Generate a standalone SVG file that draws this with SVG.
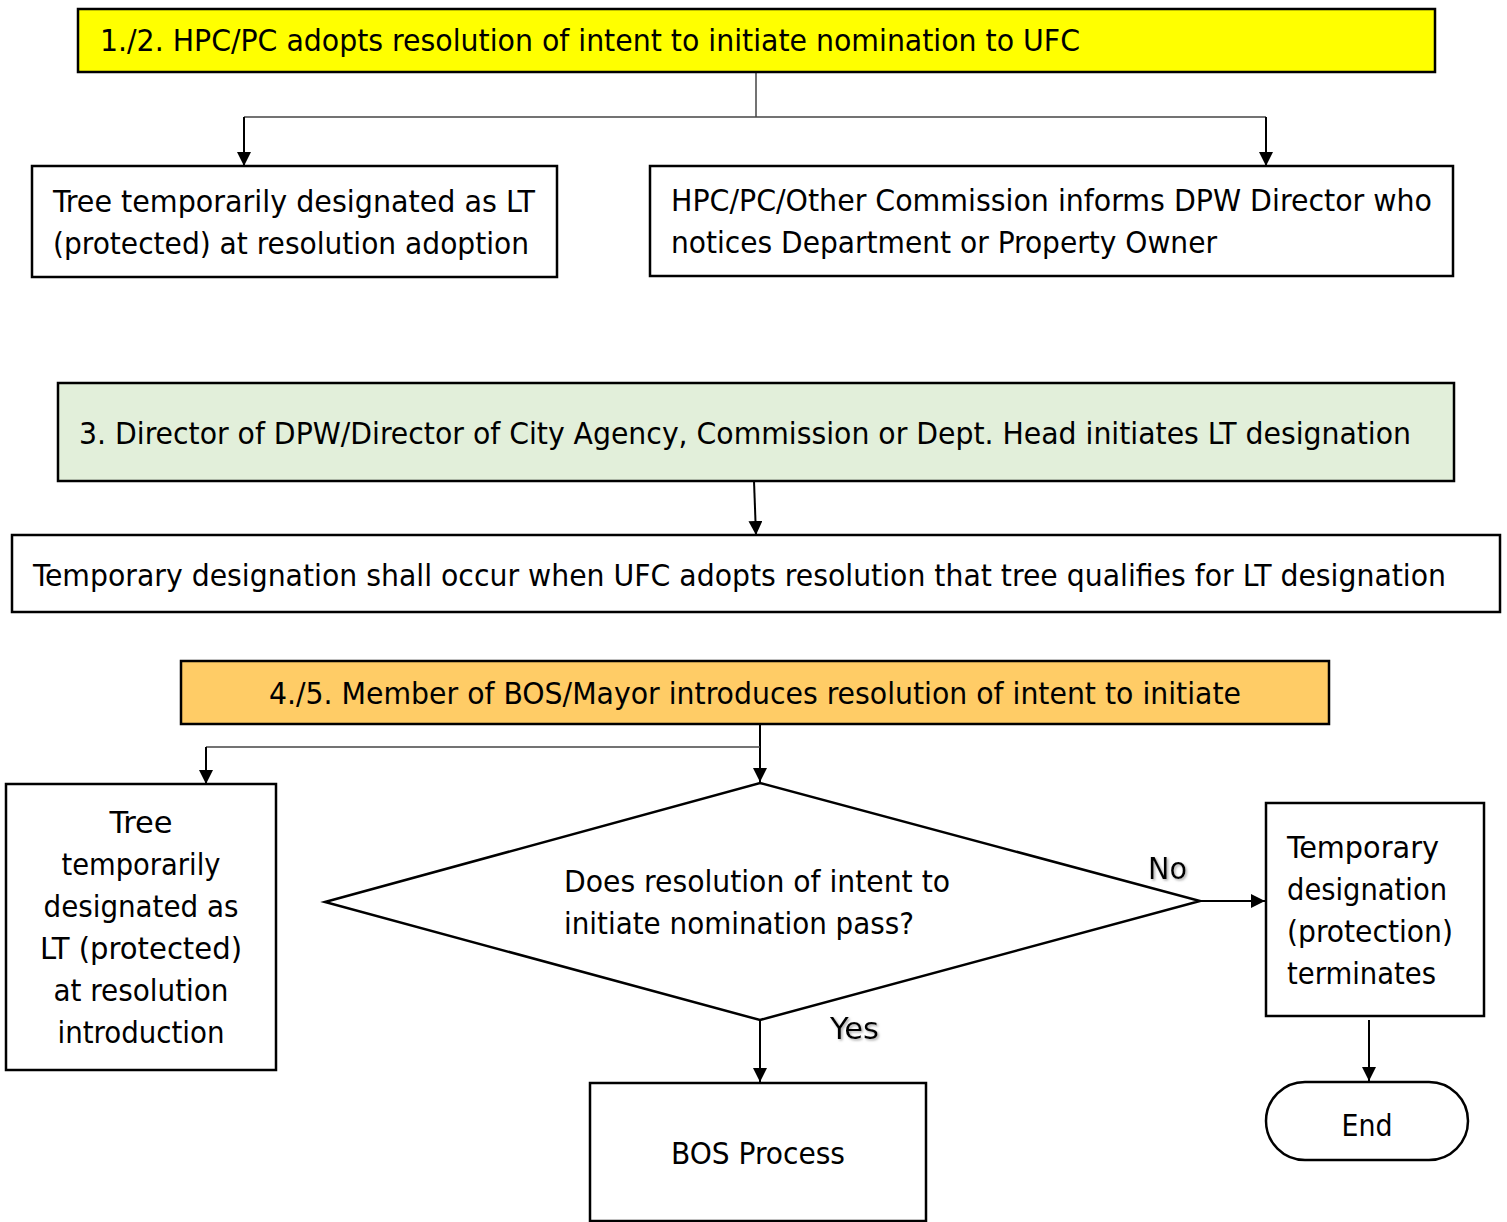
<svg xmlns="http://www.w3.org/2000/svg" width="1507" height="1222" viewBox="0 0 1507 1222">
<style>
text{font-family:"DejaVu Sans Condensed","DejaVu Sans",Verdana,sans-serif;font-size:30px;fill:#000}
.box{stroke:#000;stroke-width:2.5;fill:#fff}
.c{text-anchor:middle}
.ln{fill:none;stroke:#000;stroke-width:2}
.thin{fill:none;stroke:#444;stroke-width:1.5}
.lbl{filter:url(#sh)}
</style>
<defs>
<marker id="ah" viewBox="0 0 14 14" refX="14" refY="7" markerWidth="14" markerHeight="14" markerUnits="userSpaceOnUse" orient="auto">
<path d="M0,0 L14,7 L0,14 Z" fill="#000"/>
</marker>
<filter id="sh" x="-20%" y="-20%" width="140%" height="140%">
<feDropShadow dx="1.5" dy="1.5" stdDeviation="1" flood-color="#888" flood-opacity="0.7"/>
</filter>
</defs>

<g id="connectors">
<polyline class="thin" points="756,72 756,117"/>
<polyline class="thin" points="244,117 1266,117"/>
<polyline class="ln" points="244,117 244,166" marker-end="url(#ah)"/>
<polyline class="ln" points="1266,117 1266,166" marker-end="url(#ah)"/>
<polyline class="ln" points="754,481 756,535" marker-end="url(#ah)"/>
<polyline class="ln" points="760,724 760,782" marker-end="url(#ah)"/>
<polyline class="thin" points="206,747 760,747"/>
<polyline class="ln" points="206,747 206,784" marker-end="url(#ah)"/>
<polyline class="ln" points="1200,901 1265,901" marker-end="url(#ah)"/>
<polyline class="ln" points="760,1020 760,1082" marker-end="url(#ah)"/>
<polyline class="ln" points="1369,1020 1369,1081" marker-end="url(#ah)"/>
<text class="lbl" x="1148" y="879" textLength="39" lengthAdjust="spacingAndGlyphs">No</text>
<text class="lbl" x="830" y="1039" textLength="49" lengthAdjust="spacingAndGlyphs">Yes</text>
</g>

<g id="n1">
<rect class="box" x="78" y="9" width="1357" height="63" style="fill:#ffff00"/>
<text x="100" y="51" textLength="980" lengthAdjust="spacingAndGlyphs">1./2. HPC/PC adopts resolution of intent to initiate nomination to UFC</text>
</g>

<g id="n2">
<rect class="box" x="32" y="166" width="525" height="111"/>
<text x="53" y="212" textLength="482" lengthAdjust="spacingAndGlyphs">Tree temporarily designated as LT</text>
<text x="53" y="254" textLength="476" lengthAdjust="spacingAndGlyphs">(protected) at resolution adoption</text>
</g>

<g id="n3">
<rect class="box" x="650" y="166" width="803" height="110"/>
<text x="671" y="211" textLength="761" lengthAdjust="spacingAndGlyphs">HPC/PC/Other Commission informs DPW Director who</text>
<text x="671" y="253" textLength="546" lengthAdjust="spacingAndGlyphs">notices Department or Property Owner</text>
</g>

<g id="n4">
<rect class="box" x="58" y="383" width="1396" height="98" style="fill:#e2efda"/>
<text x="79" y="444" textLength="1332" lengthAdjust="spacingAndGlyphs">3. Director of DPW/Director of City Agency, Commission or Dept. Head initiates LT designation</text>
</g>

<g id="n5">
<rect class="box" x="12" y="535" width="1488" height="77"/>
<text x="33" y="586" textLength="1413" lengthAdjust="spacingAndGlyphs">Temporary designation shall occur when UFC adopts resolution that tree qualifies for LT designation</text>
</g>

<g id="n6">
<rect class="box" x="181" y="661" width="1148" height="63" style="fill:#ffcc66"/>
<text x="269" y="704" textLength="972" lengthAdjust="spacingAndGlyphs">4./5. Member of BOS/Mayor introduces resolution of intent to initiate</text>
</g>

<g id="n7">
<rect class="box" x="6" y="784" width="270" height="286"/>
<text class="c" x="141" y="833" textLength="63" lengthAdjust="spacingAndGlyphs">Tree</text>
<text class="c" x="141" y="875" textLength="159" lengthAdjust="spacingAndGlyphs">temporarily</text>
<text class="c" x="141" y="917" textLength="195" lengthAdjust="spacingAndGlyphs">designated as</text>
<text class="c" x="141" y="959" textLength="202" lengthAdjust="spacingAndGlyphs">LT (protected)</text>
<text class="c" x="141" y="1001" textLength="175" lengthAdjust="spacingAndGlyphs">at resolution</text>
<text class="c" x="141" y="1043" textLength="167" lengthAdjust="spacingAndGlyphs">introduction</text>
</g>

<g id="n8">
<polygon class="box" points="325,902 760,783 1200,901 760,1020"/>
<text x="564" y="892" textLength="386" lengthAdjust="spacingAndGlyphs">Does resolution of intent to</text>
<text x="564" y="934" textLength="350" lengthAdjust="spacingAndGlyphs">initiate nomination pass?</text>
</g>

<g id="n9">
<rect class="box" x="1266" y="803" width="218" height="213"/>
<text x="1287" y="858" textLength="152" lengthAdjust="spacingAndGlyphs">Temporary</text>
<text x="1287" y="900" textLength="160" lengthAdjust="spacingAndGlyphs">designation</text>
<text x="1287" y="942" textLength="166" lengthAdjust="spacingAndGlyphs">(protection)</text>
<text x="1287" y="984" textLength="149" lengthAdjust="spacingAndGlyphs">terminates</text>
</g>

<g id="n10">
<rect class="box" x="1266" y="1082" width="202" height="78" rx="39" ry="39"/>
<text class="c" x="1367" y="1136" textLength="51" lengthAdjust="spacingAndGlyphs">End</text>
</g>

<g id="n11">
<rect class="box" x="590" y="1083" width="336" height="138"/>
<text class="c" x="758" y="1164" textLength="174" lengthAdjust="spacingAndGlyphs">BOS Process</text>
</g>
</svg>
